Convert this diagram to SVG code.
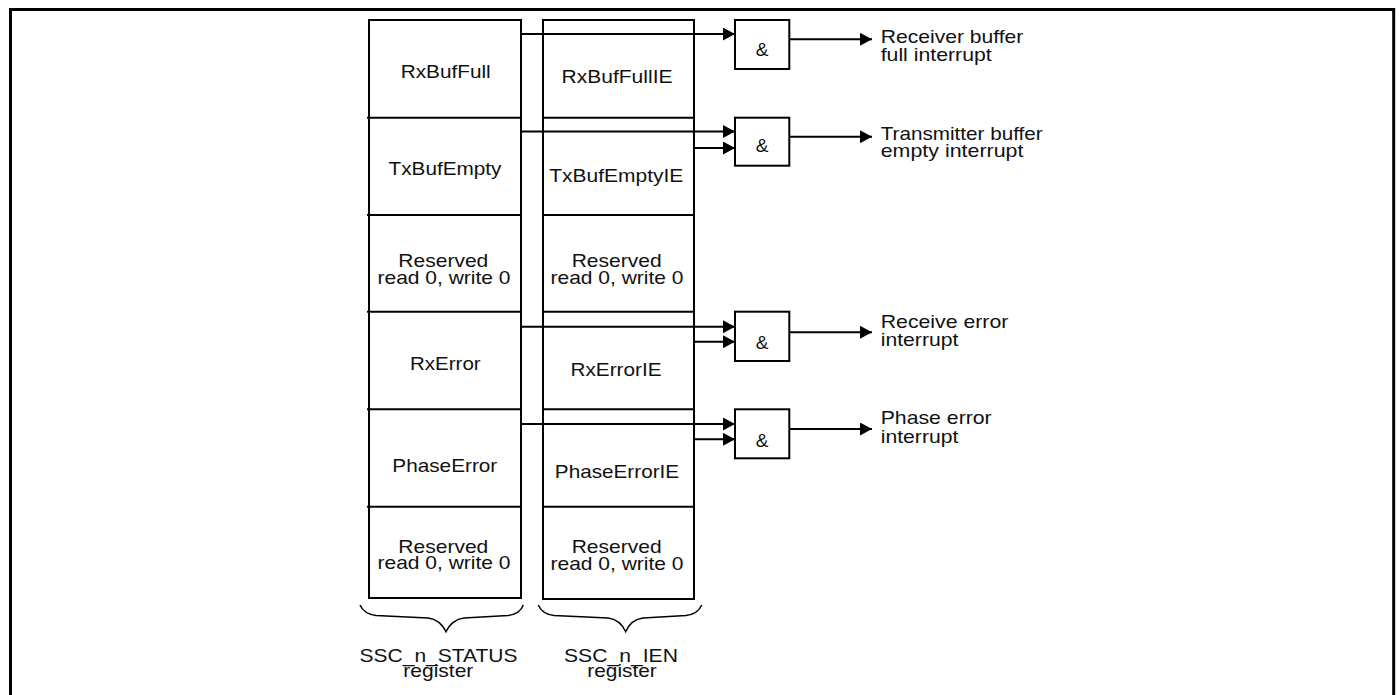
<svg xmlns="http://www.w3.org/2000/svg" width="1399" height="695" viewBox="0 0 1399 695">
<defs>
<marker id="ah" viewBox="0 0 12 13" refX="12" refY="6.5" markerWidth="12" markerHeight="13" markerUnits="userSpaceOnUse" orient="auto">
<path d="M0,0 L12,6.5 L0,13 Z" fill="#000"/>
</marker>
<style>
.box{fill:none;stroke:#000;stroke-width:2}
.t{font-family:"Liberation Sans",Arial,sans-serif;font-size:19px;fill:#111}
.c{text-anchor:middle}
.amp{font-family:"Liberation Sans",Arial,sans-serif;font-size:19px;text-anchor:middle;fill:#111}
.w{fill:none;stroke:#000;stroke-width:2}
.br{fill:none;stroke:#000;stroke-width:1.5}
</style>
</defs>
<rect width="1399" height="695" fill="#fff"/>
<path d="M10.5,700 V9.5 H1393.7 V700" fill="none" stroke="#000" stroke-width="3"/>

<g id="status-register">
<rect class="box" x="369" y="20" width="152" height="578"/>
<line class="box" x1="367" y1="117.7" x2="521" y2="117.7"/>
<line class="box" x1="367" y1="215" x2="521" y2="215"/>
<line class="box" x1="367" y1="311.7" x2="521" y2="311.7"/>
<line class="box" x1="367" y1="409.3" x2="521" y2="409.3"/>
<line class="box" x1="367" y1="506.7" x2="521" y2="506.7"/>
<text class="t c" x="445.7" y="78.3" textLength="90" lengthAdjust="spacingAndGlyphs">RxBufFull</text>
<text class="t c" x="445" y="175" textLength="113" lengthAdjust="spacingAndGlyphs">TxBufEmpty</text>
<text class="t c" x="443.3" y="266.7" textLength="90" lengthAdjust="spacingAndGlyphs">Reserved</text>
<text class="t c" x="444" y="284" textLength="133" lengthAdjust="spacingAndGlyphs">read 0, write 0</text>
<text class="t c" x="445.3" y="370" textLength="70.7" lengthAdjust="spacingAndGlyphs">RxError</text>
<text class="t c" x="444.8" y="471.7" textLength="105" lengthAdjust="spacingAndGlyphs">PhaseError</text>
<text class="t c" x="443.3" y="552.7" textLength="90" lengthAdjust="spacingAndGlyphs">Reserved</text>
<text class="t c" x="444" y="569.3" textLength="133" lengthAdjust="spacingAndGlyphs">read 0, write 0</text>
<path class="br" d="M360,605 Q364,614 376,615.5 L428,618 Q440,619.5 446,631.7 Q452,619.5 464,618 L508,615.5 Q520,614 523.3,605"/>
<text class="t c" x="438.5" y="661.7" textLength="158" lengthAdjust="spacingAndGlyphs">SSC_n_STATUS</text>
<text class="t c" x="438.3" y="676.5" textLength="70" lengthAdjust="spacingAndGlyphs">register</text>
</g>

<g id="ien-register">
<rect class="box" x="543" y="20" width="151" height="579"/>
<line class="box" x1="543" y1="117.7" x2="694" y2="117.7"/>
<line class="box" x1="543" y1="215" x2="694" y2="215"/>
<line class="box" x1="543" y1="311.7" x2="694" y2="311.7"/>
<line class="box" x1="543" y1="409.3" x2="694" y2="409.3"/>
<line class="box" x1="543" y1="506.7" x2="694" y2="506.7"/>
<text class="t c" x="617" y="83.3" textLength="111" lengthAdjust="spacingAndGlyphs">RxBufFullIE</text>
<text class="t c" x="616.3" y="181.7" textLength="134" lengthAdjust="spacingAndGlyphs">TxBufEmptyIE</text>
<text class="t c" x="616.7" y="266.7" textLength="90" lengthAdjust="spacingAndGlyphs">Reserved</text>
<text class="t c" x="617" y="284" textLength="133" lengthAdjust="spacingAndGlyphs">read 0, write 0</text>
<text class="t c" x="616" y="376" textLength="91" lengthAdjust="spacingAndGlyphs">RxErrorIE</text>
<text class="t c" x="617" y="477.7" textLength="124.3" lengthAdjust="spacingAndGlyphs">PhaseErrorIE</text>
<text class="t c" x="616.7" y="553.3" textLength="90" lengthAdjust="spacingAndGlyphs">Reserved</text>
<text class="t c" x="617" y="570" textLength="133" lengthAdjust="spacingAndGlyphs">read 0, write 0</text>
<path class="br" d="M538.3,605 Q542,614 554,615.5 L608,618 Q620,619.5 625.7,631.7 Q631,619.5 643,618 L686,615.5 Q698,614 701.7,605"/>
<text class="t c" x="621" y="662.3" textLength="114" lengthAdjust="spacingAndGlyphs">SSC_n_IEN</text>
<text class="t c" x="622" y="677.2" textLength="69.4" lengthAdjust="spacingAndGlyphs">register</text>
</g>

<g id="gate-rx-full">
<rect class="box" x="735" y="20" width="54.3" height="49"/>
<text class="amp" x="762" y="55.5">&amp;</text>
<text class="t" x="880.7" y="42.7" textLength="142.7" lengthAdjust="spacingAndGlyphs">Receiver buffer</text>
<text class="t" x="880.7" y="60.7" textLength="111" lengthAdjust="spacingAndGlyphs">full interrupt</text>
</g>
<g id="gate-tx-empty">
<rect class="box" x="735" y="117.7" width="54.3" height="48"/>
<text class="amp" x="762" y="152">&amp;</text>
<text class="t" x="880.7" y="140" textLength="162" lengthAdjust="spacingAndGlyphs">Transmitter buffer</text>
<text class="t" x="880.7" y="156.7" textLength="142.7" lengthAdjust="spacingAndGlyphs">empty interrupt</text>
</g>
<g id="gate-rx-error">
<rect class="box" x="735" y="311.7" width="54.3" height="49.3"/>
<text class="amp" x="762" y="348.5">&amp;</text>
<text class="t" x="880.7" y="327.7" textLength="127.7" lengthAdjust="spacingAndGlyphs">Receive error</text>
<text class="t" x="880.7" y="345.7" textLength="77.7" lengthAdjust="spacingAndGlyphs">interrupt</text>
</g>
<g id="gate-phase-error">
<rect class="box" x="735" y="409.3" width="54.3" height="49"/>
<text class="amp" x="762" y="446.5">&amp;</text>
<text class="t" x="880.7" y="424.3" textLength="111" lengthAdjust="spacingAndGlyphs">Phase error</text>
<text class="t" x="880.7" y="442.7" textLength="77.7" lengthAdjust="spacingAndGlyphs">interrupt</text>
</g>

<g id="connectors">
<line class="w" x1="521" y1="34" x2="735" y2="34" marker-end="url(#ah)"/>
<line class="w" x1="521" y1="131.5" x2="735" y2="131.5" marker-end="url(#ah)"/>
<line class="w" x1="694" y1="148" x2="735" y2="148" marker-end="url(#ah)"/>
<line class="w" x1="521" y1="326.7" x2="735" y2="326.7" marker-end="url(#ah)"/>
<line class="w" x1="694" y1="341.7" x2="735" y2="341.7" marker-end="url(#ah)"/>
<line class="w" x1="521" y1="424" x2="735" y2="424" marker-end="url(#ah)"/>
<line class="w" x1="694" y1="439.3" x2="735" y2="439.3" marker-end="url(#ah)"/>
<line class="w" x1="789.3" y1="39.3" x2="872" y2="39.3" marker-end="url(#ah)"/>
<line class="w" x1="789.3" y1="136.7" x2="872" y2="136.7" marker-end="url(#ah)"/>
<line class="w" x1="789.3" y1="332.3" x2="872" y2="332.3" marker-end="url(#ah)"/>
<line class="w" x1="789.3" y1="429" x2="872" y2="429" marker-end="url(#ah)"/>
</g>
</svg>
